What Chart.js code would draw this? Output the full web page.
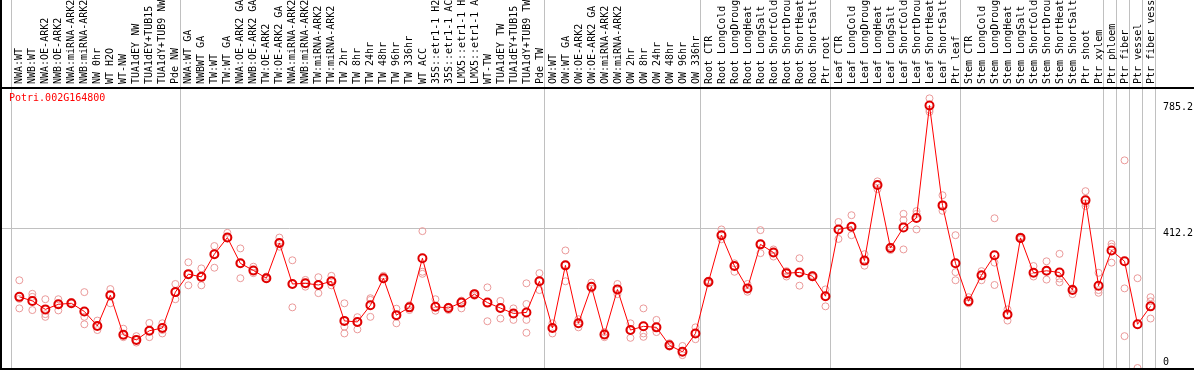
<!DOCTYPE html>
<html lang="en">
<head>
    <meta charset="UTF-8">
    <title>Potri.002G164800</title>
    <script src="https://cdn.jsdelivr.net/npm/chart.js"></script>
    <style>
        body { margin: 0; background: #fff; }
    </style>
</head>
<body>
    <canvas id="myChart" width="1194" height="370"></canvas>

    <script>
        const geneName = 'Potri.002G164800';

        const sampleLabels = [
            'NWA:WT', 'NWB:WT', 'NWA:OE-ARK2', 'NWB:OE-ARK2', 'NWA:miRNA-ARK2', 'NWB:miRNA-ARK2',
            'NW 0hr', 'WT H2O', 'WT-NW', 'TUA1dEY NW', 'TUA1dEY+TUB15 NW', 'TUA1dY+TUB9 NW', 'Pde NW',
            'NWA:WT GA', 'NWBWT GA', 'TW:WT', 'TW:WT GA', 'NWA:OE-ARK2 GA', 'NWB:OE-ARK2 GA',
            'TW:OE-ARK2', 'TW:OE-ARK2 GA', 'NWA:miRNA-ARK2 GA', 'NWB:miRNA-ARK2 GA', 'TW:miRNA-ARK2',
            'TW:miRNA-ARK2 GA', 'TW 2hr', 'TW 8hr', 'TW 24hr', 'TW 48hr', 'TW 96hr', 'TW 336hr', 'WT ACC',
            '35S::etr1-1 H2O', '35S::etr1-1 ACC', 'LMX5::etr1-1 H2O', 'LMX5::etr1-1 ACC', 'WT-TW',
            'TUA1dEY TW', 'TUA1dEY+TUB15 TW', 'TUA1dY+TUB9 TW', 'Pde TW',
            'OW:WT', 'OW:WT GA', 'OW:OE-ARK2', 'OW:OE-ARK2 GA', 'OW:miRNA-ARK2', 'OW:miRNA-ARK2 GA',
            'OW 2hr', 'OW 8hr', 'OW 24hr', 'OW 48hr', 'OW 96hr', 'OW 336hr',
            'Root CTR', 'Root LongCold', 'Root LongDrought', 'Root LongHeat', 'Root LongSalt',
            'Root ShortCold', 'Root ShortDrought', 'Root ShortHeat', 'Root ShortSalt', 'Ptr root',
            'Leaf CTR', 'Leaf LongCold', 'Leaf LongDrought', 'Leaf LongHeat', 'Leaf LongSalt',
            'Leaf ShortCold', 'Leaf ShortDrought', 'Leaf ShortHeat', 'Leaf ShortSalt', 'Ptr leaf',
            'Stem CTR', 'Stem LongCold', 'Stem LongDrought', 'Stem LongHeat', 'Stem LongSalt',
            'Stem ShortCold', 'Stem ShortDrought', 'Stem ShortHeat', 'Stem ShortSalt', 'Ptr shoot',
            'Ptr xylem', 'Ptr phloem', 'Ptr fiber', 'Ptr vessel', 'Ptr fiber vessel'
        ];

        // mean expression per sample
        const meanValues = [
            210, 198, 173, 188, 191, 167, 124, 215, 98, 83, 110, 118, 224,
            277, 269, 336, 385, 309, 288, 265, 369, 248, 250, 245, 256, 139, 136, 185, 265,
            156, 179, 324, 181, 177, 193, 218, 193, 177, 161, 164, 256,
            118, 303, 132, 240, 99, 232, 112, 123, 120, 67, 48, 102,
            254, 392, 301, 235, 365, 341, 280, 282, 271, 212,
            409, 417, 317, 540, 354, 415, 443, 775, 480, 309,
            197, 274, 333, 158, 384, 281, 287, 282, 230, 495, 243,
            347, 315, 129, 182
        ];

        // individual replicates per sample
        const replicateValues = [
            [259, 204, 176], [219, 210, 171], [203, 151, 159], [203, 170, 188], [195, 191, 190],
            [224, 151, 129], [140, 112, 124], [233, 191, 215], [116, 91, 98], [94, 75, 83],
            [133, 91, 110], [132, 112, 102], [248, 203, 224],
            [312, 244, 277], [294, 244, 269], [360, 296, 336], [399, 383, 385], [353, 265, 309],
            [299, 280, 288], [270, 263, 265], [385, 358, 369], [318, 179, 248], [260, 240, 250],
            [268, 221, 245], [272, 244, 256], [191, 122, 102], [150, 114, 136], [206, 151, 201],
            [272, 262, 265], [175, 132, 156], [185, 171, 179], [404, 284, 278], [203, 169, 181],
            [181, 171, 177], [199, 176, 193], [221, 213, 218], [238, 138, 193], [198, 146, 177],
            [176, 142, 161], [250, 189, 142, 104], [280, 230, 256],
            [132, 102, 118], [347, 256, 303], [144, 120, 132], [252, 234, 240], [106, 91, 99],
            [248, 218, 232], [132, 89, 112], [176, 102, 92], [142, 106, 120], [73, 63, 67],
            [65, 38, 48], [120, 85, 102],
            [258, 250, 254], [409, 380, 392], [309, 284, 301], [248, 225, 235], [407, 339, 365],
            [350, 329, 341], [286, 270, 280], [324, 243, 282], [274, 268, 271], [232, 182, 212],
            [431, 381, 409], [451, 392, 417], [336, 302, 317], [551, 528, 540], [358, 348, 354],
            [455, 437, 350], [463, 455, 409], [796, 762, 756], [510, 464, 480], [392, 283, 259],
            [209, 191, 197], [286, 259, 274], [442, 311, 245], [173, 140, 158], [388, 380, 384],
            [301, 270, 281], [315, 261, 287], [337, 264, 253], [235, 218, 230], [522, 486, 478],
            [281, 230, 222], [366, 358, 311], [613, 235, 94], [265, 0], [209, 197, 146]
        ];

        const groupStarts = [0, 13, 41, 53, 63, 73, 84, 85, 86, 87, 88];
        const yTickValues = [0, 412.2, 785.2];
        const gridValue = 412.2;

        const monoFont = '10px "DejaVu Sans Mono"';

        const meanPoints = meanValues.map((v, i) => ({ x: i, y: v }));
        const repPoints = [];
        replicateValues.forEach((reps, i) => {
            reps.forEach(v => repPoints.push({ x: i, y: v }));
        });

        const framePlugin = {
            id: 'frame',
            beforeDraw(chart) {
                const c = chart.ctx;
                c.save();
                c.fillStyle = '#fff';
                c.fillRect(0, 0, chart.width, chart.height);
                c.restore();
            },
            beforeDatasetsDraw(chart) {
                const c = chart.ctx;
                const area = chart.chartArea;
                const xs = chart.scales.x;
                const ys = chart.scales.y;
                c.save();
                c.strokeStyle = '#c0c0c0';
                c.lineWidth = 1;
                // group dividers, running through the label band too
                groupStarts.forEach(s => {
                    const px = Math.round(xs.getPixelForValue(s - 0.64)) + 0.5;
                    c.beginPath();
                    c.moveTo(px, 0);
                    c.lineTo(px, area.bottom);
                    c.stroke();
                });
                const gy = Math.round(ys.getPixelForValue(gridValue)) + 0.5;
                c.beginPath();
                c.moveTo(area.left, gy);
                c.lineTo(xs.getPixelForValue(87.36), gy);
                c.stroke();

                // sample labels, rotated
                c.fillStyle = '#000';
                c.font = monoFont;
                c.textAlign = 'left';
                c.textBaseline = 'middle';
                sampleLabels.forEach((lab, i) => {
                    const px = xs.getPixelForValue(i) + 0.5;
                    c.save();
                    c.translate(px, 84);
                    c.rotate(-Math.PI / 2);
                    c.fillText(lab, 0, 0);
                    c.restore();
                });

                // gene name
                c.fillStyle = '#ff0000';
                c.textBaseline = 'alphabetic';
                c.fillText(geneName, 9, 101);

                // value labels on the right
                c.fillStyle = '#000';
                c.textBaseline = 'top';
                yTickValues.forEach(v => {
                    let py = ys.getPixelForValue(v);
                    py = Math.min(py, area.bottom - 12);
                    c.fillText(String(v), 1163, py);
                });
                c.restore();
            },
            afterDatasetsDraw(chart) {
                const c = chart.ctx;
                const area = chart.chartArea;
                c.save();
                c.strokeStyle = '#000';
                c.lineWidth = 2;
                c.beginPath();
                c.moveTo(0, area.top);
                c.lineTo(chart.width, area.top);
                c.moveTo(0, area.bottom);
                c.lineTo(chart.width, area.bottom);
                c.moveTo(1, 0);
                c.lineTo(1, chart.height);
                c.stroke();
                c.restore();
            }
        };

        const ctx = document.getElementById('myChart').getContext('2d');
        const chart = new Chart(ctx, {
            type: 'scatter',
            data: {
                datasets: [
                    {
                        label: 'mean',
                        data: meanPoints,
                        showLine: true,
                        borderColor: '#ff0000',
                        borderWidth: 1,
                        pointRadius: 4,
                        pointBorderWidth: 2,
                        pointBorderColor: '#e00000',
                        pointBackgroundColor: 'rgba(0,0,0,0)',
                        order: 0
                    },
                    {
                        label: 'replicates',
                        data: repPoints,
                        showLine: false,
                        pointRadius: 3.5,
                        pointBorderWidth: 1,
                        pointBorderColor: '#eb9a9a',
                        pointBackgroundColor: 'rgba(0,0,0,0)',
                        order: 1
                    }
                ]
            },
            options: {
                responsive: false,
                animation: false,
                devicePixelRatio: 1,
                layout: { autoPadding: false, padding: { left: 1, right: 38, top: 88, bottom: 1 } },
                plugins: {
                    legend: { display: false },
                    tooltip: { enabled: false }
                },
                scales: {
                    x: { type: 'linear', min: -1.41, max: 87.42, display: false },
                    y: { type: 'linear', min: -2.95, max: 826.5, display: false }
                }
            },
            plugins: [framePlugin]
        });
    </script>
</body>
</html>
